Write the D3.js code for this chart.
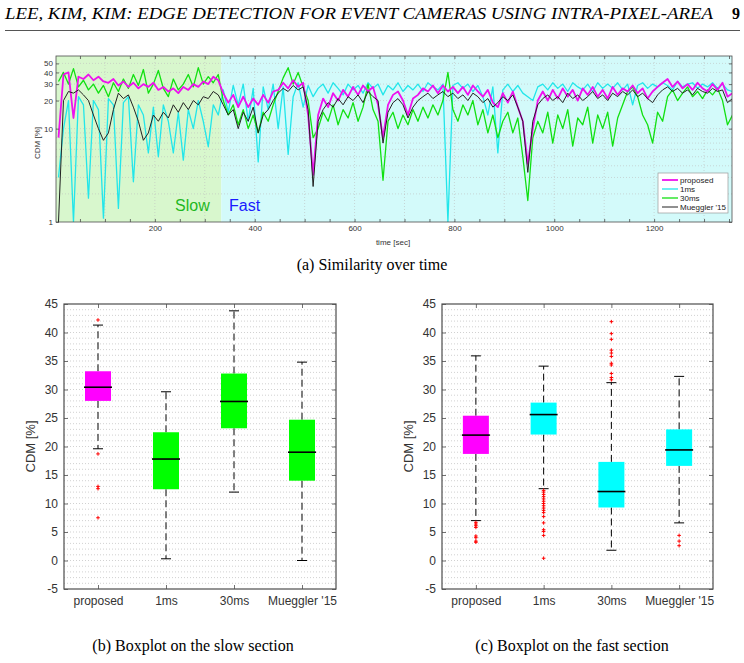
<!DOCTYPE html>
<html>
<head>
<meta charset="utf-8">
<script src="https://cdn.jsdelivr.net/npm/d3@7"></script>
<style>
  body { margin: 0; background: #fff; }
  svg { display: block; }
</style>
</head>
<body>
<div id="figure"></div>
<script>
// ================================================
// DATA
// ====

// time series sampled every 10 sec (sample grid), values in CDM [%]
const times = d3.range(7, 1360, 10);

const proposed = [
  8, 38, 40, 13, 36, 34, 38, 33, 36, 32,
  31, 34, 29, 32, 28, 31, 27, 30, 28, 31,
  26, 28, 25, 27, 24, 28, 26, 30, 28, 32,
  30, 36, 33, 24, 19, 23, 17, 22, 17, 21,
  18, 23, 19, 25, 26, 31, 27, 33, 28, 31,
  14, 3.2, 14, 21, 17, 24, 20, 26, 22, 28,
  23, 29, 25, 28, 18, 8, 18, 23, 25, 20,
  14, 21, 23, 27, 25, 29, 24, 29, 25, 28,
  24, 28, 23, 29, 25, 22, 26, 19, 17, 24,
  19, 25, 17, 12, 4.2, 10, 20, 25, 20, 26,
  21, 27, 22, 26, 20, 27, 23, 28, 22, 26,
  21, 28, 23, 27, 25, 29, 24, 27, 21, 25,
  28, 31, 34, 28, 32, 27, 30, 26, 31, 27,
  25, 30, 26, 31, 22, 24
];

const ms1 = [
  3, 10, 20, 1, 22, 18, 1.8, 20, 16, 1.1,
  21, 18, 1.4, 19, 22, 2.7, 18, 14, 5.5, 17,
  5, 18, 12, 5.5, 15, 4.6, 16, 10, 20, 12,
  6.4, 18, 14, 26, 15, 29, 18, 30, 12, 27,
  4.4, 28, 16, 30, 10, 28, 5.3, 22, 31, 17,
  29, 22, 27, 30, 24, 31, 27, 23, 30, 26,
  29, 24, 31, 27, 30, 23, 29, 26, 31, 25,
  29, 26, 30, 25, 31, 28, 26, 30, 1, 29,
  31, 27, 30, 25, 29, 22, 14, 28, 5.5, 26,
  30, 25, 29, 24, 22, 20, 28, 30, 26, 31,
  27, 30, 25, 31, 28, 26, 30, 25, 31, 27,
  30, 27, 31, 26, 30, 18, 29, 31, 27, 30,
  28, 31, 29, 26, 32, 28, 30, 31, 27, 30,
  28, 31, 27, 30, 26, 25
];

const ms30 = [
  32, 40, 30, 44, 28, 33, 26, 30, 24, 29,
  22, 31, 25, 34, 27, 38, 29, 43, 24, 30,
  42, 27, 22, 34, 26, 30, 38, 28, 45, 30,
  36, 31, 38, 20, 14, 18, 11, 16, 10, 14,
  9, 15, 12, 18, 25, 35, 45, 30, 40, 28,
  20, 8, 10, 15, 12, 18, 11, 16, 13, 19,
  12, 17, 30, 16, 12, 2.8, 12, 15, 10, 14,
  11, 16, 12, 17, 13, 18, 14, 20, 40, 16,
  12, 18, 14, 20, 11, 16, 9, 14, 8, 12,
  15, 9, 13, 5, 1.7, 8, 12, 9, 15, 7,
  14, 10, 16, 6.5, 13, 11, 17, 7, 14, 10,
  15, 6.5, 13, 18, 25, 28, 22, 14, 11, 7,
  15, 12, 22, 26, 20, 24, 28, 22, 25, 21,
  26, 23, 27, 20, 11, 14
];

const mueggler = [
  1, 20, 25, 24, 26, 23, 20, 14, 10, 7.5,
  9, 16, 24, 21, 23, 17, 12, 7.5, 9, 14,
  12, 15, 13, 18, 15, 19, 16, 20, 18, 22,
  21, 25, 23, 18, 14, 16, 10, 15, 12, 17,
  9, 14, 16, 20, 24, 27, 25, 29, 26, 28,
  16, 2.4, 12, 16, 19, 17, 21, 18, 22, 20,
  23, 19, 25, 22, 20, 7, 15, 19, 21, 18,
  13, 17, 20, 22, 24, 21, 23, 25, 22, 24,
  21, 23, 20, 24, 22, 19, 21, 17, 19, 22,
  20, 23, 17, 12, 3.4, 12, 18, 21, 23, 20,
  22, 19, 24, 21, 23, 20, 22, 25, 21, 23,
  20, 24, 22, 25, 23, 26, 22, 24, 21, 19,
  23, 26, 28, 25, 27, 24, 26, 23, 27, 25,
  24, 27, 25, 26, 19, 21
];

const seriesNames = ["proposed", "1ms", "30ms", "Mueggler '15"];
const slowEnd = 333;   // sec, end of the slow section
const timeTicks = [200, 400, 600, 800, 1000, 1200];
const cdmTicks = [1, 10, 20, 30, 40, 50];

// boxplots: [proposed, 1ms, 30ms, Mueggler '15]
const boxCategories = ["proposed", "1ms", "30ms", "Mueggler '15"];

const slowLower  = [19.6, 0.3, 12.0, 0.0];
const slowQ1     = [28.0, 12.5, 23.2, 14.0];
const slowMedian = [30.4, 17.8, 27.9, 19.0];
const slowQ3     = [33.2, 22.5, 32.8, 24.7];
const slowUpper  = [41.3, 29.6, 43.8, 34.8];
const slowOutliers = [[42.2, 18.7, 13.0, 12.6, 7.5], [], [], []];

const fastLower  = [7.0, 12.6, 1.8, 6.6];
const fastQ1     = [18.7, 22.1, 9.3, 16.6];
const fastMedian = [22.0, 25.6, 12.1, 19.4];
const fastQ3     = [25.4, 27.7, 17.3, 23.0];
const fastUpper  = [35.9, 34.1, 31.2, 32.3];
const fastOutliers = [
  [6.7, 6.4, 6.1, 5.8, 4.3, 4.0, 3.4, 3.2],
  [12.3, 12.0, 11.6, 11.2, 10.8, 10.4, 10.0, 9.6, 9.2, 8.8, 8.4, 7.7, 6.6, 5.4, 5.1, 4.4, 0.4],
  [31.7, 32.1, 32.8, 34.3, 34.6, 35.8, 36.4, 36.9, 38.8, 39.8, 41.9],
  [4.4, 3.4, 2.6]
];
const boxTicks = [-5, 0, 5, 10, 15, 20, 25, 30, 35, 40, 45];

// ================================================
// STYLE
// =====
const sansFont = "'Liberation Sans', Arial, Helvetica, sans-serif";
const serifFont = "'Liberation Serif', 'Times New Roman', serif";
const axisColor = "#4d4d4d";
const labelColor = "#333";
const gridColor = "#bdbdbd";

const lineColors = {
  "proposed": "#ee11ee",
  "1ms": "#22e6ea",
  "30ms": "#11e011",
  "Mueggler '15": "#222"
};
const lineWidths = { "proposed": 1.8, "1ms": 1.3, "30ms": 1.3, "Mueggler '15": 1 };

const svg = d3.select("#figure")
  .append("svg")
  .attr("width", 744)
  .attr("height", 663)
  .style("background", "#fff");

drawHeader();
drawTimePlot();
drawBoxplot({
  left: 64, right: 336, top: 304, bottom: 589,
  lower: slowLower, q1: slowQ1, median: slowMedian, q3: slowQ3, upper: slowUpper,
  outliers: slowOutliers,
  colors: ["#ff00ff", "#00ff00", "#00ff00", "#00ff00"],
  ylabelX: 35,
  caption: "(b) Boxplot on the slow section", captionX: 193
});
drawBoxplot({
  left: 442, right: 713, top: 304, bottom: 589,
  lower: fastLower, q1: fastQ1, median: fastMedian, q3: fastQ3, upper: fastUpper,
  outliers: fastOutliers,
  colors: ["#ff00ff", "#00ffff", "#00ffff", "#00ffff"],
  ylabelX: 413,
  caption: "(c) Boxplot on the fast section", captionX: 572
});

// ================================================
function drawHeader() {
  svg.append("text")
    .attr("x", 5)
    .attr("y", 19)
    .attr("font-family", serifFont)
    .attr("font-style", "italic")
    .attr("font-size", 16)
    .attr("textLength", 708)
    .attr("lengthAdjust", "spacingAndGlyphs")
    .text("LEE, KIM, KIM: EDGE DETECTION FOR EVENT CAMERAS USING INTRA-PIXEL-AREA");

  svg.append("text")
    .attr("x", 740)
    .attr("y", 19)
    .attr("text-anchor", "end")
    .attr("font-family", serifFont)
    .attr("font-weight", "bold")
    .attr("font-size", 16)
    .text("9");

  svg.append("line")
    .attr("x1", 5).attr("x2", 740)
    .attr("y1", 30.5).attr("y2", 30.5)
    .attr("stroke", "#555")
    .attr("stroke-width", 1.2);
}

// ================================================
// TIME SERIES
// ===========
function drawTimePlot() {
  const left = 56, right = 732, top = 56, bottom = 222;

  const x = d3.scaleLinear().domain([2, 1356]).range([left, right]);
  const y = d3.scaleLog().domain([1, 60]).range([bottom, top]);

  const g = svg.append("g");

  // backgrounds of the two sections
  g.append("rect")
    .attr("x", left).attr("y", top)
    .attr("width", x(slowEnd) - left).attr("height", bottom - top)
    .attr("fill", "#d8f7cd");
  g.append("rect")
    .attr("x", x(slowEnd)).attr("y", top)
    .attr("width", right - x(slowEnd)).attr("height", bottom - top)
    .attr("fill", "#d3fafa");

  // grid
  const minorY = [2, 3, 4, 5, 6, 7, 8, 9, 10, 20, 30, 40, 50];
  g.append("g")
    .selectAll("line")
    .data(minorY)
    .join("line")
    .attr("x1", left).attr("x2", right)
    .attr("y1", d => y(d)).attr("y2", d => y(d))
    .attr("stroke", gridColor)
    .attr("stroke-width", 0.6)
    .attr("stroke-dasharray", "1,2");

  g.append("g")
    .selectAll("line")
    .data(d3.range(100, 1356, 100))
    .join("line")
    .attr("x1", d => x(d)).attr("x2", d => x(d))
    .attr("y1", top).attr("y2", bottom)
    .attr("stroke", gridColor)
    .attr("stroke-width", 0.6)
    .attr("stroke-dasharray", "1,2");

  // lines
  svg.append("clipPath").attr("id", "clipTime")
    .append("rect")
    .attr("x", left).attr("y", top)
    .attr("width", right - left).attr("height", bottom - top);

  const line = d3.line()
    .x((d, i) => x(times[i]))
    .y(d => y(d));

  const drawOrder = [
    ["1ms", ms1],
    ["30ms", ms30],
    ["proposed", proposed],
    ["Mueggler '15", mueggler]
  ];
  g.append("g")
    .attr("clip-path", "url(#clipTime)")
    .selectAll("path")
    .data(drawOrder)
    .join("path")
    .attr("d", d => line(d[1]))
    .attr("fill", "none")
    .attr("stroke", d => lineColors[d[0]])
    .attr("stroke-width", d => lineWidths[d[0]])
    .attr("stroke-linejoin", "round");

  // section labels
  g.append("text")
    .attr("x", 175).attr("y", 211)
    .attr("font-family", sansFont)
    .attr("font-size", 16)
    .attr("fill", "#1fb81f")
    .text("Slow");
  g.append("text")
    .attr("x", 229).attr("y", 211)
    .attr("font-family", sansFont)
    .attr("font-size", 16)
    .attr("fill", "#1a1aff")
    .text("Fast");

  // frame + ticks
  g.append("rect")
    .attr("x", left).attr("y", top)
    .attr("width", right - left).attr("height", bottom - top)
    .attr("fill", "none")
    .attr("stroke", axisColor)
    .attr("stroke-width", 0.8);

  const xAxis = d3.axisBottom(x).tickValues(d3.range(50, 1356, 50))
    .tickSize(-3).tickFormat(d => timeTicks.includes(d) ? d : "");
  g.append("g")
    .attr("transform", `translate(0,${bottom})`)
    .call(xAxis)
    .call(styleAxis, 8);

  const xTop = d3.axisTop(x).tickValues(d3.range(50, 1356, 50)).tickSize(-3).tickFormat("");
  g.append("g")
    .attr("transform", `translate(0,${top})`)
    .call(xTop)
    .call(styleAxis, 8);

  const yAxis = d3.axisLeft(y).tickValues(cdmTicks).tickSize(-3).tickFormat(d3.format("d"));
  g.append("g")
    .attr("transform", `translate(${left},0)`)
    .call(yAxis)
    .call(styleAxis, 8);

  const yRight = d3.axisRight(y).tickValues(cdmTicks).tickSize(-3).tickFormat("");
  g.append("g")
    .attr("transform", `translate(${right},0)`)
    .call(yRight)
    .call(styleAxis, 8);

  // axis labels
  g.append("text")
    .attr("transform", `translate(40,${(top + bottom) / 2 + 4}) rotate(-90)`)
    .attr("text-anchor", "middle")
    .attr("font-family", sansFont)
    .attr("font-size", 8)
    .attr("fill", labelColor)
    .text("CDM [%]");
  g.append("text")
    .attr("x", (left + right) / 2 - 1).attr("y", 245)
    .attr("text-anchor", "middle")
    .attr("font-family", sansFont)
    .attr("font-size", 8)
    .attr("fill", labelColor)
    .text("time [sec]");

  // legend
  const legend = g.append("g").attr("transform", "translate(658,173)");
  legend.append("rect")
    .attr("width", 70).attr("height", 40)
    .attr("fill", "#fff")
    .attr("stroke", "#999")
    .attr("stroke-width", 0.7);
  const items = legend.selectAll("g")
    .data(seriesNames)
    .join("g")
    .attr("transform", (d, i) => `translate(0,${7 + i * 9})`);
  items.append("line")
    .attr("x1", 4).attr("x2", 20)
    .attr("stroke", d => lineColors[d])
    .attr("stroke-width", d => lineWidths[d]);
  items.append("text")
    .attr("x", 22).attr("y", 3)
    .attr("font-family", sansFont)
    .attr("font-size", 8)
    .attr("fill", "#222")
    .text(d => d);

  // caption
  svg.append("text")
    .attr("x", 372).attr("y", 270)
    .attr("text-anchor", "middle")
    .attr("font-family", serifFont)
    .attr("font-size", 16)
    .text("(a) Similarity over time");
}

function styleAxis(sel, size) {
  sel.select(".domain").remove();
  sel.selectAll(".tick line").attr("stroke", axisColor).attr("stroke-width", 0.8);
  sel.selectAll(".tick text")
    .attr("font-family", sansFont)
    .attr("font-size", size)
    .attr("fill", labelColor);
}

// ================================================
// BOXPLOTS
// ========
function drawBoxplot(opt) {
  const x = d3.scaleLinear().domain([0.5, 4.5]).range([opt.left, opt.right]);
  const y = d3.scaleLinear().domain([-5, 45]).range([opt.bottom, opt.top]);
  const g = svg.append("g");

  // dotted grid, every 1 %
  g.append("g")
    .selectAll("line")
    .data(d3.range(-4, 45, 1))
    .join("line")
    .attr("x1", opt.left).attr("x2", opt.right)
    .attr("y1", d => y(d)).attr("y2", d => y(d))
    .attr("stroke", gridColor)
    .attr("stroke-width", 0.7)
    .attr("stroke-dasharray", "1,2");

  const stats = boxCategories.map((name, i) => ({
    name, pos: i + 1,
    lower: opt.lower[i], q1: opt.q1[i], median: opt.median[i],
    q3: opt.q3[i], upper: opt.upper[i], outliers: opt.outliers[i],
    color: opt.colors[i]
  }));

  const boxes = g.append("g")
    .selectAll("g")
    .data(stats)
    .join("g");

  // whiskers
  boxes.append("line")
    .attr("x1", d => x(d.pos)).attr("x2", d => x(d.pos))
    .attr("y1", d => y(d.q3)).attr("y2", d => y(d.upper))
    .attr("stroke", "#000").attr("stroke-dasharray", "7,4");
  boxes.append("line")
    .attr("x1", d => x(d.pos)).attr("x2", d => x(d.pos))
    .attr("y1", d => y(d.q1)).attr("y2", d => y(d.lower))
    .attr("stroke", "#000").attr("stroke-dasharray", "7,4");
  boxes.selectAll("line.cap")
    .data(d => [d, d].map((s, k) => ({ pos: s.pos, v: k ? s.upper : s.lower })))
    .join("line")
    .attr("class", "cap")
    .attr("x1", d => x(d.pos) - 5).attr("x2", d => x(d.pos) + 5)
    .attr("y1", d => y(d.v)).attr("y2", d => y(d.v))
    .attr("stroke", "#000").attr("stroke-width", 1);

  // box
  boxes.append("rect")
    .attr("x", d => x(d.pos) - 13)
    .attr("width", 26)
    .attr("y", d => y(d.q3))
    .attr("height", d => y(d.q1) - y(d.q3))
    .attr("fill", d => d.color);

  // median
  boxes.append("line")
    .attr("x1", d => x(d.pos) - 14).attr("x2", d => x(d.pos) + 14)
    .attr("y1", d => y(d.median)).attr("y2", d => y(d.median))
    .attr("stroke", "#000").attr("stroke-width", 1.6);

  // outliers
  boxes.selectAll("path.out")
    .data(d => d.outliers.map(v => ({ pos: d.pos, v })))
    .join("path")
    .attr("class", "out")
    .attr("d", d => `M${x(d.pos) - 1.8},${y(d.v)}h3.6M${x(d.pos)},${y(d.v) - 1.8}v3.6`)
    .attr("stroke", "#ff0000")
    .attr("stroke-width", 1);

  // frame
  g.append("rect")
    .attr("x", opt.left).attr("y", opt.top)
    .attr("width", opt.right - opt.left).attr("height", opt.bottom - opt.top)
    .attr("fill", "none")
    .attr("stroke", axisColor)
    .attr("stroke-width", 1.2);

  const yAxis = d3.axisLeft(y).tickValues(boxTicks).tickSize(-4).tickPadding(6)
    .tickFormat(d => String(d));
  g.append("g").attr("transform", `translate(${opt.left},0)`)
    .call(yAxis).call(styleAxis, 12);
  g.append("g").attr("transform", `translate(${opt.right},0)`)
    .call(d3.axisRight(y).tickValues(boxTicks).tickSize(-4).tickFormat(""))
    .call(styleAxis, 12);

  const xAxis = d3.axisBottom(x).tickValues([1, 2, 3, 4]).tickSize(-4).tickPadding(7)
    .tickFormat(d => boxCategories[d - 1]);
  g.append("g").attr("transform", `translate(0,${opt.bottom})`)
    .call(xAxis).call(styleAxis, 12);
  g.append("g").attr("transform", `translate(0,${opt.top})`)
    .call(d3.axisTop(x).tickValues([1, 2, 3, 4]).tickSize(-4).tickFormat(""))
    .call(styleAxis, 12);

  g.append("text")
    .attr("transform", `translate(${opt.ylabelX},${(opt.top + opt.bottom) / 2}) rotate(-90)`)
    .attr("text-anchor", "middle")
    .attr("font-family", sansFont)
    .attr("font-size", 13)
    .attr("fill", labelColor)
    .text("CDM [%]");

  svg.append("text")
    .attr("x", opt.captionX).attr("y", 651)
    .attr("text-anchor", "middle")
    .attr("font-family", serifFont)
    .attr("font-size", 16)
    .text(opt.caption);
}
</script>
</body>
</html>
